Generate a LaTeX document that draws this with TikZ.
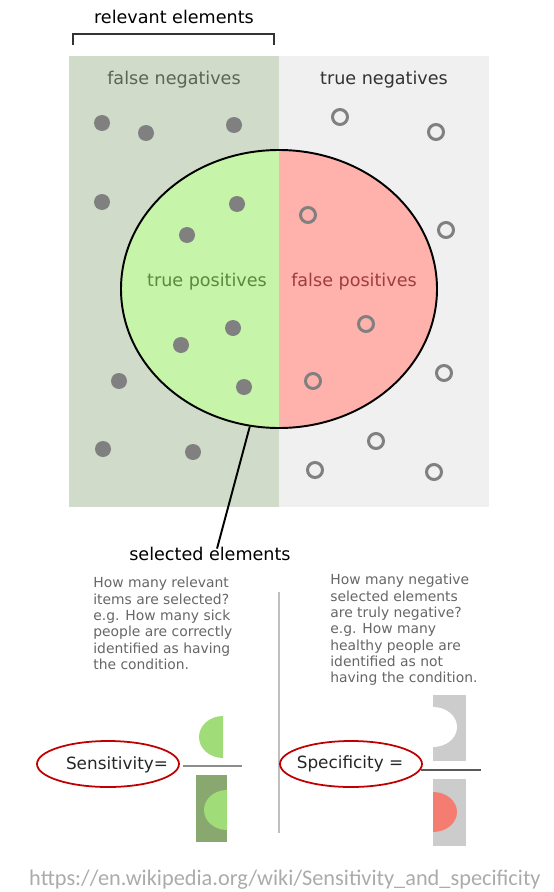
\documentclass[tikz,border=0pt]{standalone}
\usepackage{fontspec}
\setmainfont{DejaVu Sans}
\newfontfamily\urlfont{Carlito}
\usepackage{xcolor}
\usetikzlibrary{shapes.geometric, positioning, calc}
\definecolor{fnback}{HTML}{D0DCC9}
\definecolor{tnback}{HTML}{F0F0F0}
\definecolor{tpfill}{HTML}{C6F4A8}
\definecolor{fpfill}{HTML}{FFB2AC}
\definecolor{tptext}{HTML}{5C8A3C}
\definecolor{fptext}{HTML}{A03C3C}
\definecolor{fntext}{HTML}{5A6650}
\definecolor{dotgray}{HTML}{808080}
\definecolor{halfgreen}{HTML}{A0DC78}
\definecolor{darkgreen}{HTML}{88A870}
\definecolor{halfred}{HTML}{F47C70}
\definecolor{ringred}{HTML}{C00000}

\begin{document}
\begin{tikzpicture}[x=0.02cm, y=0.02cm,
    every node/.style={inner sep=0pt, font=\fontsize{10}{12}\selectfont},
    sick/.style={circle, fill=dotgray, minimum size=16*0.02cm},
    healthy/.style={circle, draw=dotgray, line width=1.7pt, minimum size=15*0.02cm},
    question/.style={anchor=north west, align=left, text=black!60,
        font=\fontsize{7.9}{9.3}\selectfont},
    ring/.style={ellipse, draw=ringred, line width=1pt,
        minimum width=142*0.02cm, minimum height=46*0.02cm}]
    \useasboundingbox (0,0) rectangle (554,-892);
    % the two halves
    \fill[fnback] (69,-56) rectangle (279,-507);
    \fill[tnback] (279,-56) rectangle (489,-507);
    \draw[black!80, line width=1.1pt] (73,-45) -- (73,-34) -- (274,-34) -- (274,-45);
    \node (relevant) at (174,-17) {relevant elements};
    \node[text=fntext] (fn) at (174,-80) {false negatives};
    \node[text=black!80] (tn) at (384,-80) {true negatives};
    % selected elements
    \node[ellipse, draw, line width=1.1pt, fill=fpfill, minimum width=316*0.02cm,
        minimum height=278*0.02cm,
        path picture={\fill[tpfill] (path picture bounding box.south west)
            rectangle (path picture bounding box.north);}] (selected) at (279,-289) {};
    \node[text=tptext] (tp) at (207,-282) {true positives};
    \node[text=fptext] (fp) at (354,-282) {false positives};
    \foreach \x/\y [count=\i] in {102/123, 146/133, 234/125, 102/202, 237/204, 187/235,
        233/328, 181/345, 119/381, 244/387, 103/449, 193/452}
        \node[sick] (sick\i) at (\x,-\y) {};
    \foreach \x/\y [count=\i] in {340/117, 436/132, 308/215, 446/230, 366/324, 444/373,
        313/381, 376/441, 315/470, 434/472}
        \node[healthy] (healthy\i) at (\x,-\y) {};
    \node (sel) at (210,-554) {selected elements};
    \draw[line width=1.1pt] (selected.258) -- ([yshift=-1pt]sel.north -| 217,0);
    % the two questions
    \node[question] (qsens) at (93,-577) {How many relevant\\items are selected?\\e.g. How many sick\\people are correctly\\identified as having\\the condition.};
    \node[question] (qspec) at (330,-574) {How many negative\\selected elements\\are truly negative?\\e.g. How many\\healthy people are\\identified as not\\having the condition.};
    \draw[black!25, line width=1.1pt] (279,-592) -- (279,-833);
    % sensitivity
    \node[ring] (sensring) at (108,-764) {};
    \node[font=\fontsize{9.6}{11}\selectfont, text=black!85] (sens) at (117,-765) {Sensitivity=};
    \coordinate (sensbar) at (242,-766);
    \draw[black!45, line width=1.1pt] (sensring.east) ++(3,-2) -- (sensbar);
    \fill[halfgreen] (223,-716) arc[start angle=90, end angle=270, x radius=24, y radius=21] -- cycle;
    \fill[darkgreen] (196,-775) rectangle (227,-842);
    \fill[halfgreen] (227,-790) arc[start angle=90, end angle=270, x radius=23, y radius=20] -- cycle;
    % specificity
    \node[ring] (specring) at (351,-764) {};
    \node[font=\fontsize{9.6}{11}\selectfont, text=black!85] (spec) at (350,-764) {Specificity =};
    \coordinate (specbar) at (481,-770);
    \draw[black!65, line width=0.7pt] (specring.east) ++(-2,-6) -- (specbar);
    \fill[black!20] (433,-695) rectangle (466,-761);
    \fill[white] (433,-707) arc[start angle=90, end angle=-90, x radius=24, y radius=20] -- cycle;
    \fill[black!20] (433,-779) rectangle (466,-846);
    \fill[halfred] (433,-792) arc[start angle=90, end angle=-90, x radius=24, y radius=20] -- cycle;
    \node[font=\urlfont\fontsize{12.7}{14}\selectfont, text=black!33] (url) at (285,-880)
        {https://en.wikipedia.org/wiki/Sensitivity\_and\_specificity};
\end{tikzpicture}
\end{document}
